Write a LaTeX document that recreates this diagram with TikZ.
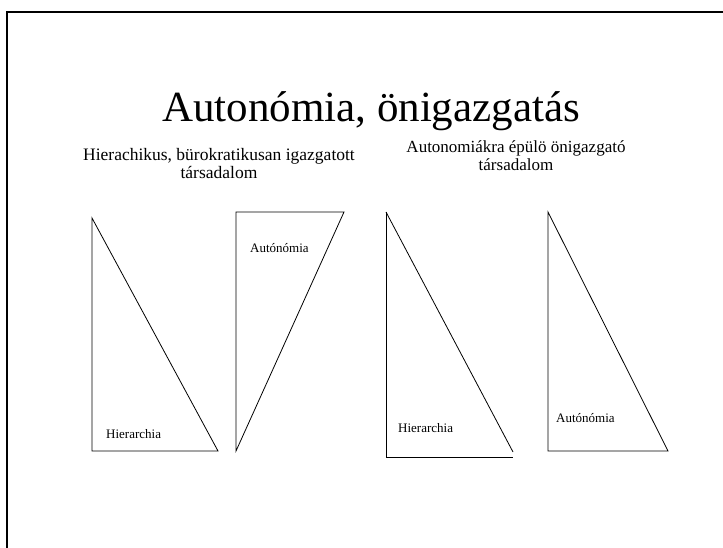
\documentclass[tikz,border=0pt]{standalone}
\usepackage{fontspec}
\setmainfont{Liberation Serif}
\usetikzlibrary{positioning}

\begin{document}
\begin{tikzpicture}[x=1pt,y=-1pt,
  trilabel/.style={font=\fontsize{13}{15}\selectfont,inner sep=0pt,anchor=base west},
  subtitle/.style={font=\fontsize{17.5}{18.5}\selectfont,align=center,inner sep=0pt,anchor=base},
  tri/.style={draw,line width=0.8pt,line join=miter}]
\useasboundingbox (0,0) rectangle (723,548);

% Slide frame
\draw[line width=2pt] (7,548) -- (7,12) -- (723,12);

% Title
\node[font=\fontsize{43}{48}\selectfont,anchor=base,inner sep=0pt] (title) at (371,122) {Autonómia, önigazgatás};

% Subtitles (base = last line)
\node[subtitle] (lefthead) at (219,179) {Hierachikus, bürokratikusan igazgatott\\társadalom};
\node[subtitle,font=\fontsize{17}{18}\selectfont] (righthead) at (516,171) {Autonomiákra épülö önigazgató\\társadalom};

% Left pair of triangles
\draw[tri] (92,218) -- (92,451) -- (218,451) -- cycle;
\node[trilabel] (hier1) at (106,438) {Hierarchia};
\draw[tri] (236,451) -- (236,212) -- (344,212) -- cycle;
\node[trilabel] (auto1) at (250,253) {Autónómia};

% Right pair of triangles
\draw[tri] (386,212) -- (386,457) -- (513,457);
\draw[tri] (386,212) -- (513,452);
\node[trilabel] (hier2) at (398,432) {Hierarchia};
\draw[tri] (548,212) -- (548,451) -- (668,451) -- cycle;
\node[trilabel] (auto2) at (556,422) {Autónómia};
\end{tikzpicture}
\end{document}
